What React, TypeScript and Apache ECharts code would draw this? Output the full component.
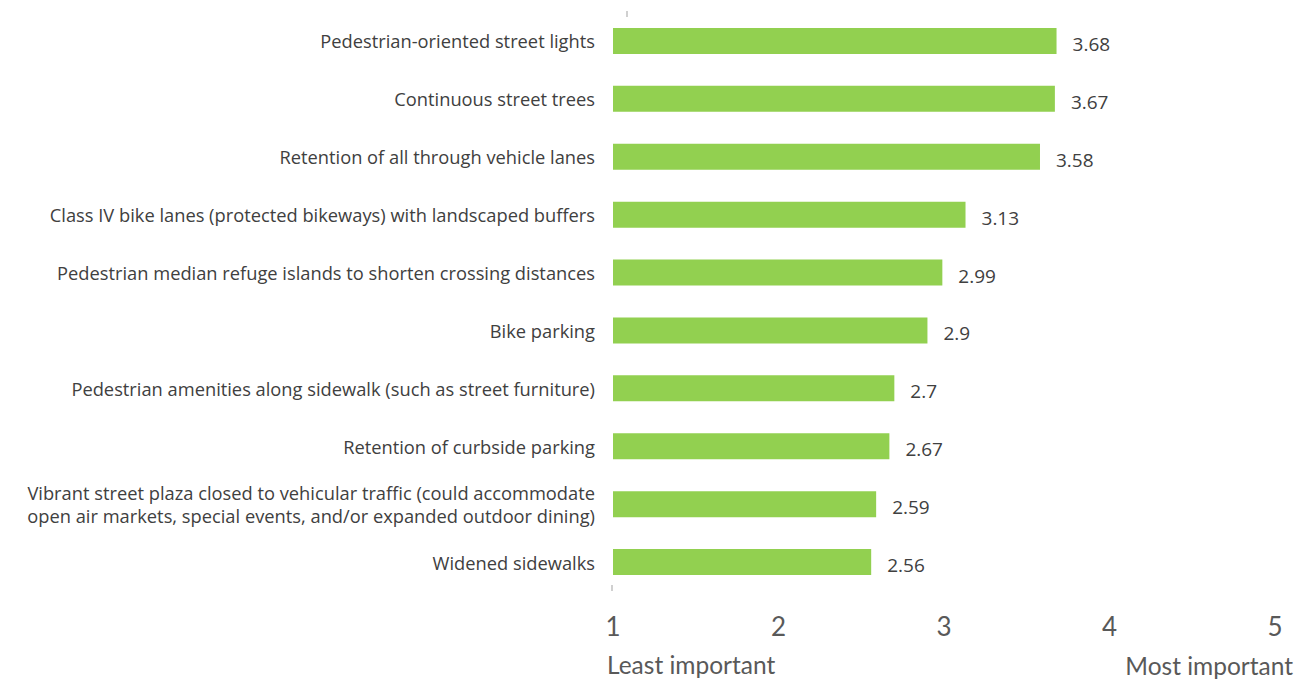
import React, { useEffect, useRef } from "react";
import * as echarts from "echarts";

const categories = [
  "Pedestrian-oriented street lights",
  "Continuous street trees",
  "Retention of all through vehicle lanes",
  "Class IV bike lanes (protected bikeways) with landscaped buffers",
  "Pedestrian median refuge islands to shorten crossing distances",
  "Bike parking",
  "Pedestrian amenities along sidewalk (such as street furniture)",
  "Retention of curbside parking",
  "Vibrant street plaza closed to vehicular traffic (could accommodate\nopen air markets, special events, and/or expanded outdoor dining)",
  "Widened sidewalks",
];
const values = [3.68, 3.67, 3.58, 3.13, 2.99, 2.9, 2.7, 2.67, 2.59, 2.56];
const axisMin = 1;
const axisMax = 5;
const leftCaption = "Least important";
const rightCaption = "Most important";

export default function App() {
  const ref = useRef<HTMLDivElement>(null);
  useEffect(() => {
    document.body.style.margin = "0";
    const chart = echarts.init(ref.current!, null, { renderer: "svg" });
    chart.setOption({
      animation: false,
      grid: { left: 613, right: 34, top: 12, bottom: 90, containLabel: false },
      xAxis: {
        type: "value",
        min: axisMin,
        max: axisMax,
        interval: 1,
        splitLine: { show: false },
        axisLine: { show: false },
        axisTick: { show: false },
        axisLabel: {
          margin: 22,
          fontSize: 26,
          color: "#595959",
          fontFamily: "Lato",
        },
      },
      yAxis: {
        type: "category",
        inverse: true,
        data: categories,
        axisLine: { show: false },
        axisTick: { show: false },
        axisLabel: {
          margin: 18,
          fontSize: 18.3,
          lineHeight: 23,
          color: "#404040",
          fontFamily: "Open Sans",
          align: "right",
        },
      },
      series: [
        {
          type: "bar",
          data: values,
          barWidth: 26,
          itemStyle: { color: "#92D050" },
          label: {
            show: true,
            position: "right",
            distance: 16,
            fontSize: 19,
            color: "#404040",
            fontFamily: "Open Sans",
            offset: [0, 3],
          },
        },
      ],
      graphic: [
        { type: "line", shape: { x1: 627, y1: 11, x2: 627, y2: 17 }, style: { stroke: "#d0d0d0", lineWidth: 2 } },
        { type: "line", shape: { x1: 612, y1: 585, x2: 612, y2: 591 }, style: { stroke: "#d0d0d0", lineWidth: 2 } },
        {
          type: "text",
          left: 607,
          top: 652,
          style: { text: leftCaption, fontSize: 24.5, fill: "#595959", fontFamily: "Lato" },
        },
        {
          type: "text",
          right: 16,
          top: 653,
          style: { text: rightCaption, fontSize: 24.5, fill: "#595959", fontFamily: "Lato" },
        },
      ],
    });
    return () => chart.dispose();
  }, []);
  return <div ref={ref} style={{ width: 1309, height: 681 }} />;
}
